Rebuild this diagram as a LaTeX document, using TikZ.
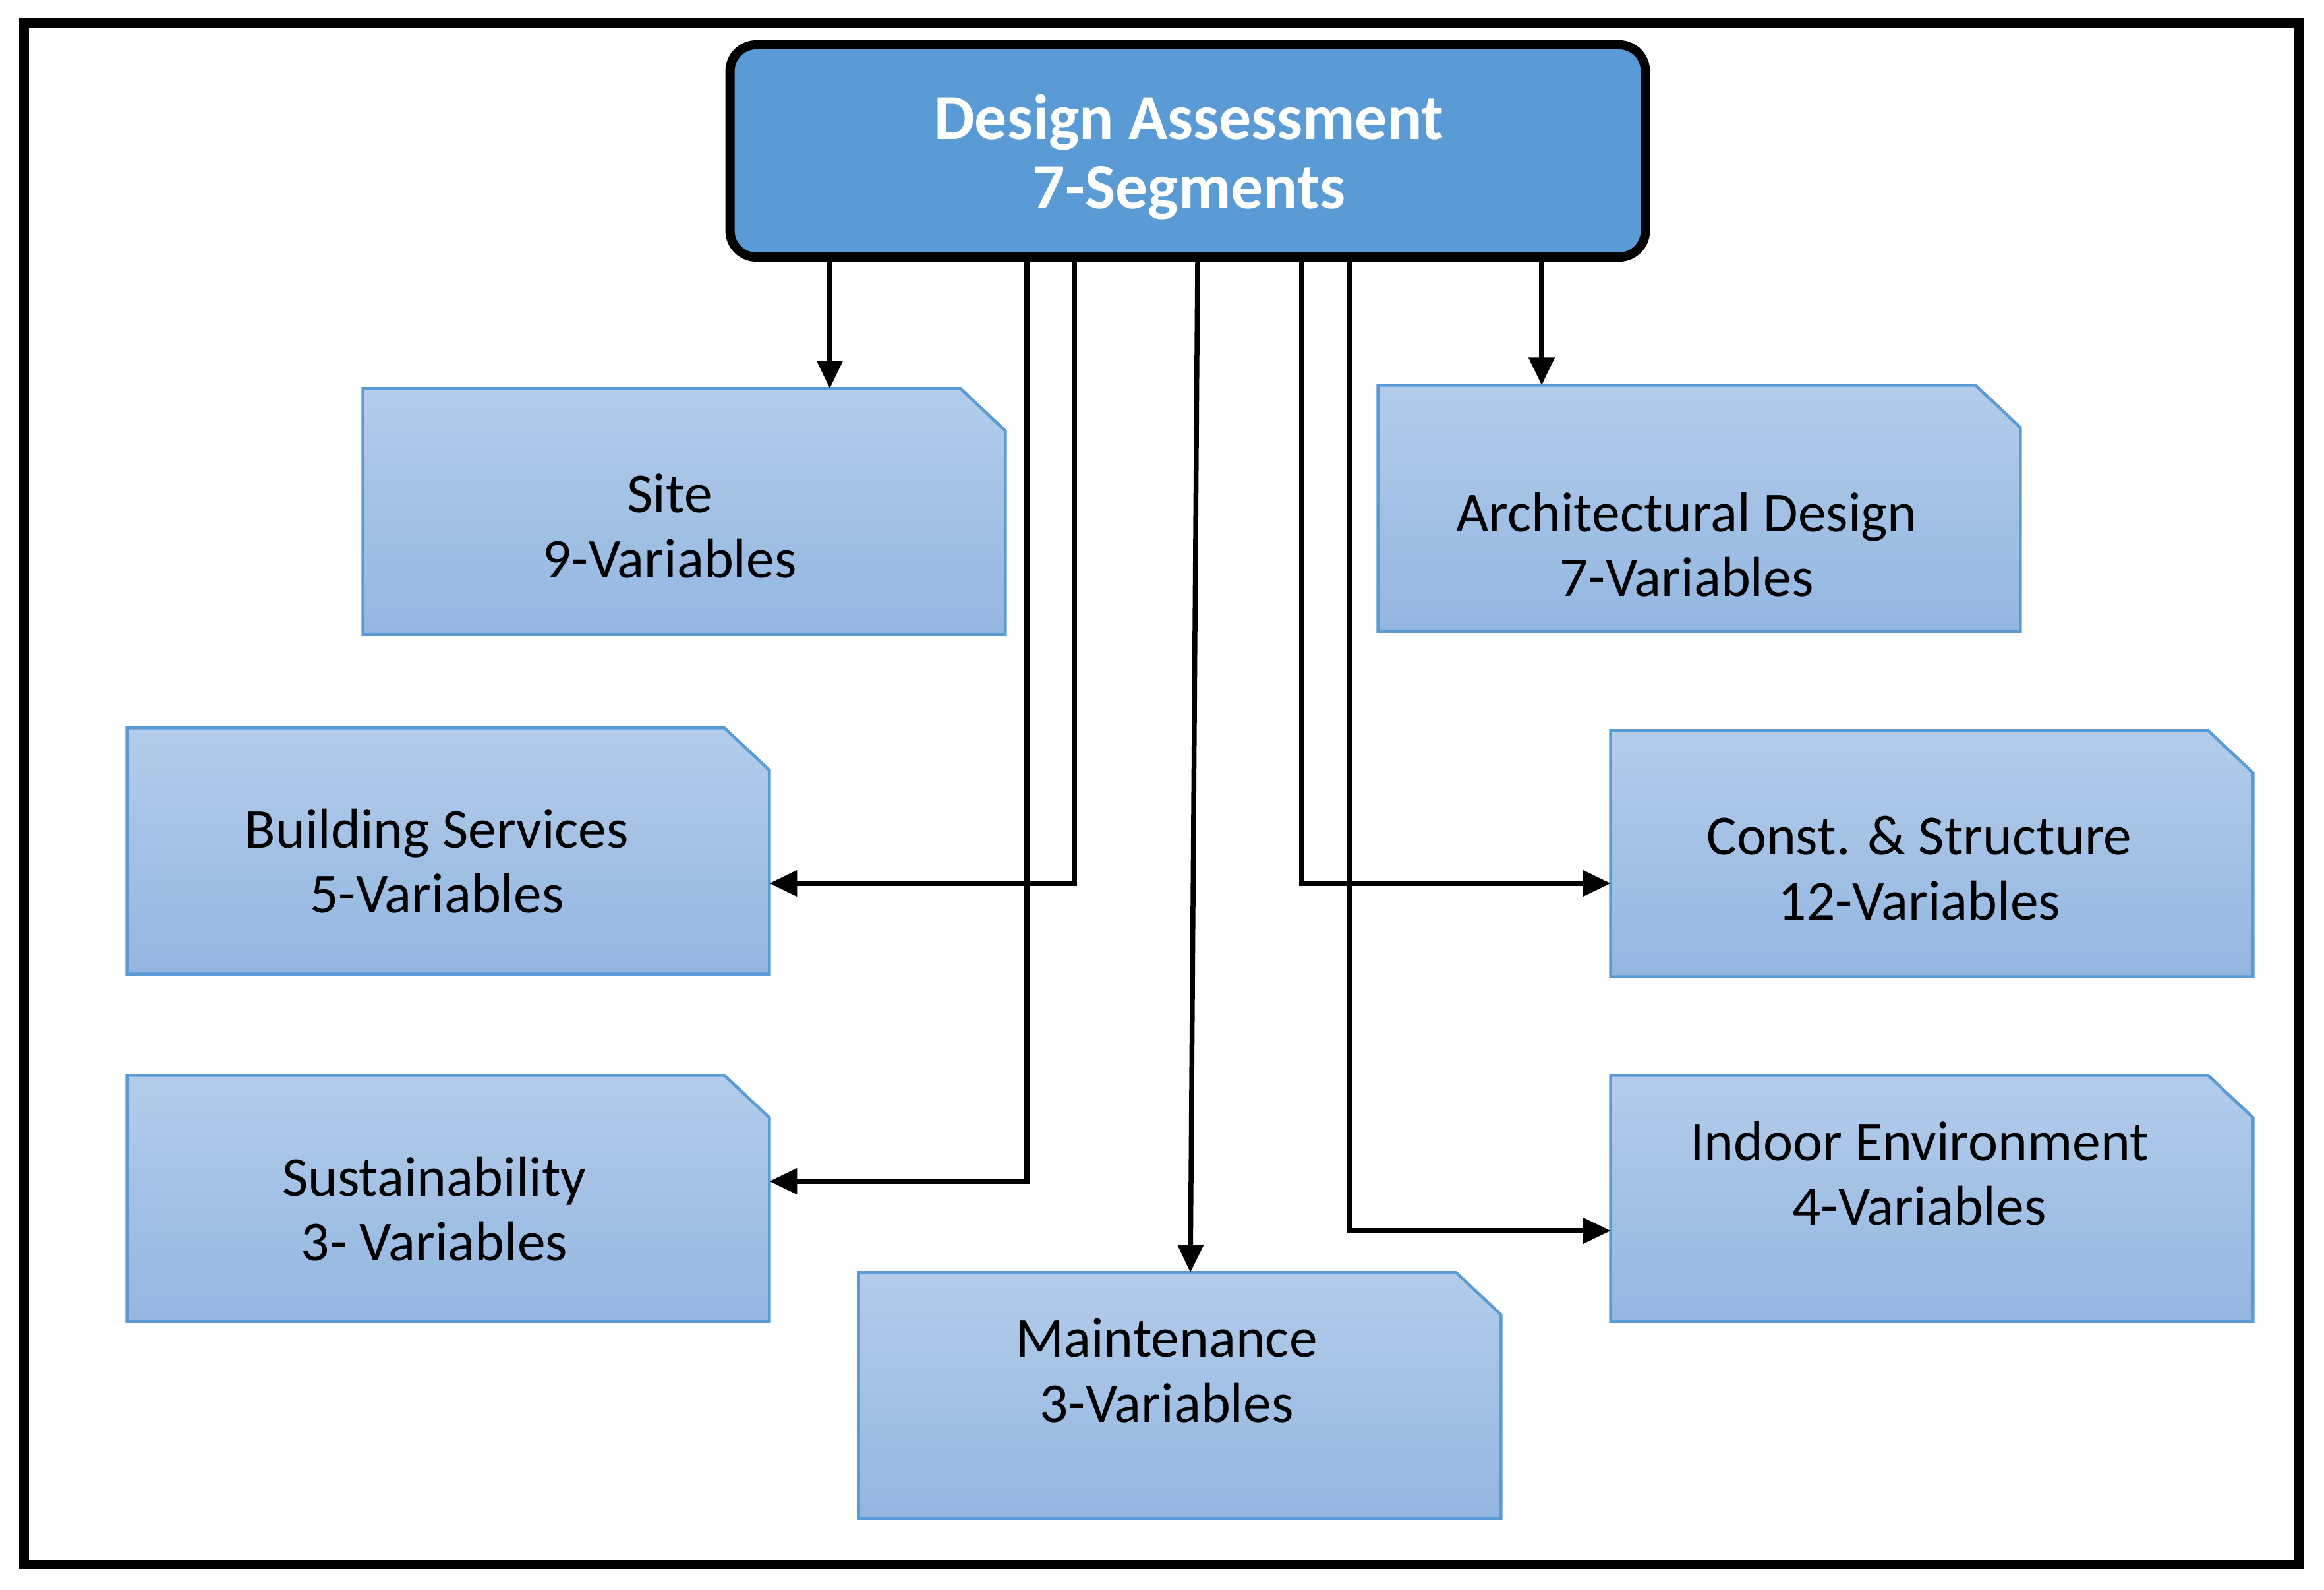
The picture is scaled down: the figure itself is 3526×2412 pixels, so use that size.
\documentclass[tikz,border=0pt]{standalone}
\usepackage{fontspec}
\setmainfont{Carlito}
\usetikzlibrary{arrows.meta}
\definecolor{headblue}{HTML}{5B9BD5}
\definecolor{boxtop}{HTML}{B3CCEA}
\definecolor{boxbot}{HTML}{93B6E1}
\definecolor{boxline}{HTML}{5B9BD5}

\begin{document}
\begin{tikzpicture}[x=0.01cm, y=-0.01cm,
    segbox/.style={rectangle, minimum width=9.74cm, minimum height=3.73cm, inner sep=0pt, outer sep=0pt},
    segshape/.style={draw=boxline, line width=0.045cm, top color=boxtop, bottom color=boxbot},
    segtext/.style={align=center, font=\fontsize{24.3}{28}\selectfont, text=black},
    link/.style={line width=0.075cm, -{Triangle[length=0.42cm, width=0.38cm]}}]
                  \useasboundingbox (0,0) rectangle (3526,2412);
                  \draw[line width=0.14cm] (36.5,35) rectangle (3488,2373);

                  \node[draw, line width=0.14cm, rounded corners=0.4cm, fill=headblue,
                    minimum width=13.88cm, minimum height=3.22cm] (title) at (1802,229) {};
                  \node[align=center, text=white, font=\fontsize{27.8}{29.8}\selectfont\bfseries]
                    (titletxt) at (1804,238) {Design Assessment\\7-Segments};

                  \foreach \nm/\x/\y in {site/1038/776, arch/2578/771, bldg/680/1291,
                    cons/2931/1295, sust/680/1818, indoor/2931/1818, maint/1790/2117} {
                  \node[segbox] (\nm) at (\x, \y) {};
                  \draw[segshape] (\nm.south west) -- (\nm.north west) -- ([xshift=-0.68cm]\nm.north east)
                    -- ([yshift=-0.64cm]\nm.north east) -- (\nm.south east) -- cycle;
                  }

                  \node[segtext] (sitetxt) at (1016, 798) {Site\\9-Variables};
                  \node[segtext] (archtxt) at (2559, 826) {Architectural Design\\7-Variables};
                  \node[segtext] (bldgtxt) at (663, 1306) {Building Services\\5-Variables};
                  \node[segtext] (constxt) at (2912, 1317) {Const. \& Structure\\12-Variables};
                  \node[segtext] (susttxt) at (659, 1834) {Sustainability\\3- Variables};
                  \node[segtext] (indoortxt) at (2912, 1780) {Indoor Environment\\4-Variables};
                  \node[segtext] (mainttxt) at (1770, 2079) {Maintenance\\3-Variables};

                  \draw[link] (1259,0 |- title.south) -- (1259,0 |- site.north);
                  \draw[link] (2339,0 |- title.south) -- (2339,0 |- arch.north);
                  \draw[link] (1630,0 |- title.south) |- (bldg.east |- 0,1340);
                  \draw[link] (1558,0 |- title.south) |- (sust.east |- 0,1792);
                  \draw[link] (1975,0 |- title.south) |- (cons.west |- 0,1340);
                  \draw[link] (2047,0 |- title.south) |- (indoor.west |- 0,1867);
                  \draw[link] (1817,0 |- title.south) -- (1806,0 |- maint.north);
              \end{tikzpicture}
\end{document}
